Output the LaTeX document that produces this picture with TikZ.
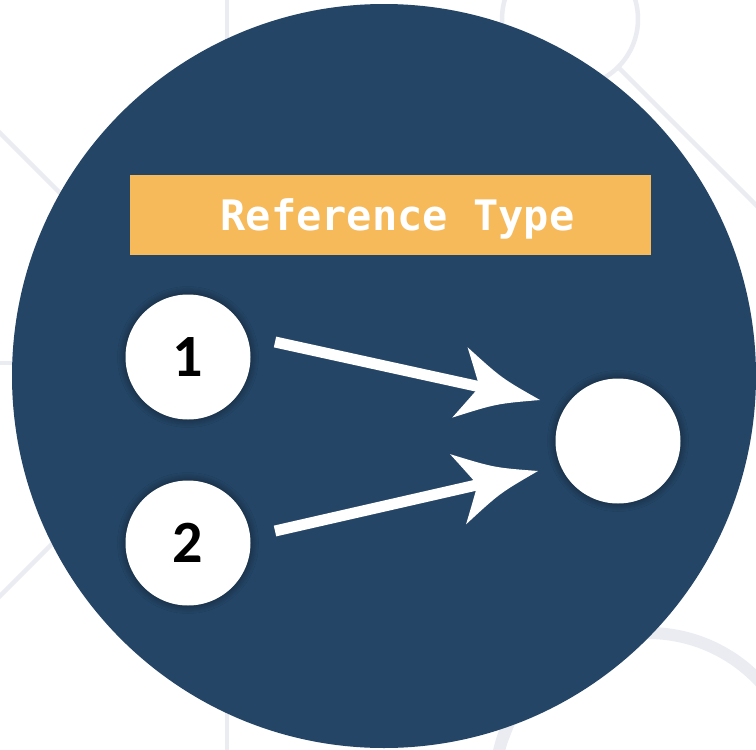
\documentclass[tikz,border=0pt]{standalone}
\usepackage{fontspec}
\newfontfamily\titlefont{DejaVu Sans Mono}
\newfontfamily\numfont{Carlito}
\usetikzlibrary{calc,shadows.blur}
\definecolor{navy}{RGB}{36,69,102}
\definecolor{bgline}{RGB}{234,236,241}
\definecolor{tanorange}{RGB}{246,186,90}
\newcommand\headat[2]{%
  \path ($(#2)!82pt!(#1)$) coordinate (hb)
        ($(#2)!62pt!(#1)$) coordinate (hn)
        ($(#2)!42pt!(#1)$) coordinate (hm)
        ($(#2)!73pt!(#1)$) coordinate (hk);
  \path ($(hb)!36pt!90:(#2)$) coordinate (hl)
        ($(hb)!36pt!-90:(#2)$) coordinate (hr)
        ($(hm)!13pt!90:(#2)$) coordinate (hml)
        ($(hm)!13pt!-90:(#2)$) coordinate (hmr)
        ($(hk)!20pt!90:(#2)$) coordinate (hkl)
        ($(hk)!20pt!-90:(#2)$) coordinate (hkr);
  \fill[white] (#2) .. controls (hml) .. (hl) .. controls (hkl) .. (hn)
     .. controls (hkr) .. (hr) .. controls (hmr) .. cycle;
}
\tikzset{
  bgstroke/.style={draw=bgline, line width=4.5pt},
  dot/.style={circle, fill=white, minimum size=125pt, inner sep=0pt,
    blur shadow={shadow xshift=0pt, shadow yshift=0pt, shadow blur radius=8pt,
      shadow opacity=50, shadow blur steps=12}},
  shaft/.style={draw=white, line width=11pt},
  digit/.style={font=\numfont\bfseries\fontsize{60}{60}\selectfont, text=black},
}
\begin{document}
\begin{tikzpicture}[x=1pt,y=-1pt]
\useasboundingbox (0,0) rectangle (756,750);
\clip (0,0) rectangle (756,750);
\fill[white] (0,0) rectangle (756,750);
% background network lines
\draw[bgstroke] (227,-10) -- (227,760);
\draw[bgstroke] (-10,123) -- (200,333);
\draw[bgstroke] (-10,363) -- (100,363);
\draw[bgstroke] (-10,606) -- (120,476);
\draw[bgstroke] (570,19) circle (68);
\draw[bgstroke] (618,67) -- (780,229);
\draw[bgstroke] (540,655) -- (498,760);
\draw[draw=bgline, line width=12pt] (648,786) circle (153);
% big disc
\fill[navy] (384,376) circle (372);
% title bar
\node[fill=tanorange, minimum width=521pt, minimum height=80pt, inner sep=0pt] (titlebox) at (390.5,215) {};
\node[anchor=base, text=white, font=\titlefont\bfseries\fontsize{42}{42}\selectfont] (titletext) at (397.5,230) {Reference Type};
% circles
\node[dot, digit] (c1) at (188,357) {1};
\node[dot, digit] (c2) at (188,543) {2};
\node[dot] (c3) at (618,441) {};
% arrows
\coordinate (a1s) at (275,342);
\coordinate (a1t) at (540,400);
\coordinate (a2s) at (275,531);
\coordinate (a2t) at (538,471);
\draw[shaft] (a1s) -- ($(a1t)!58pt!(a1s)$);
\headat{a1s}{a1t}
\draw[shaft] (a2s) -- ($(a2t)!58pt!(a2s)$);
\headat{a2s}{a2t}
\end{tikzpicture}
\end{document}
